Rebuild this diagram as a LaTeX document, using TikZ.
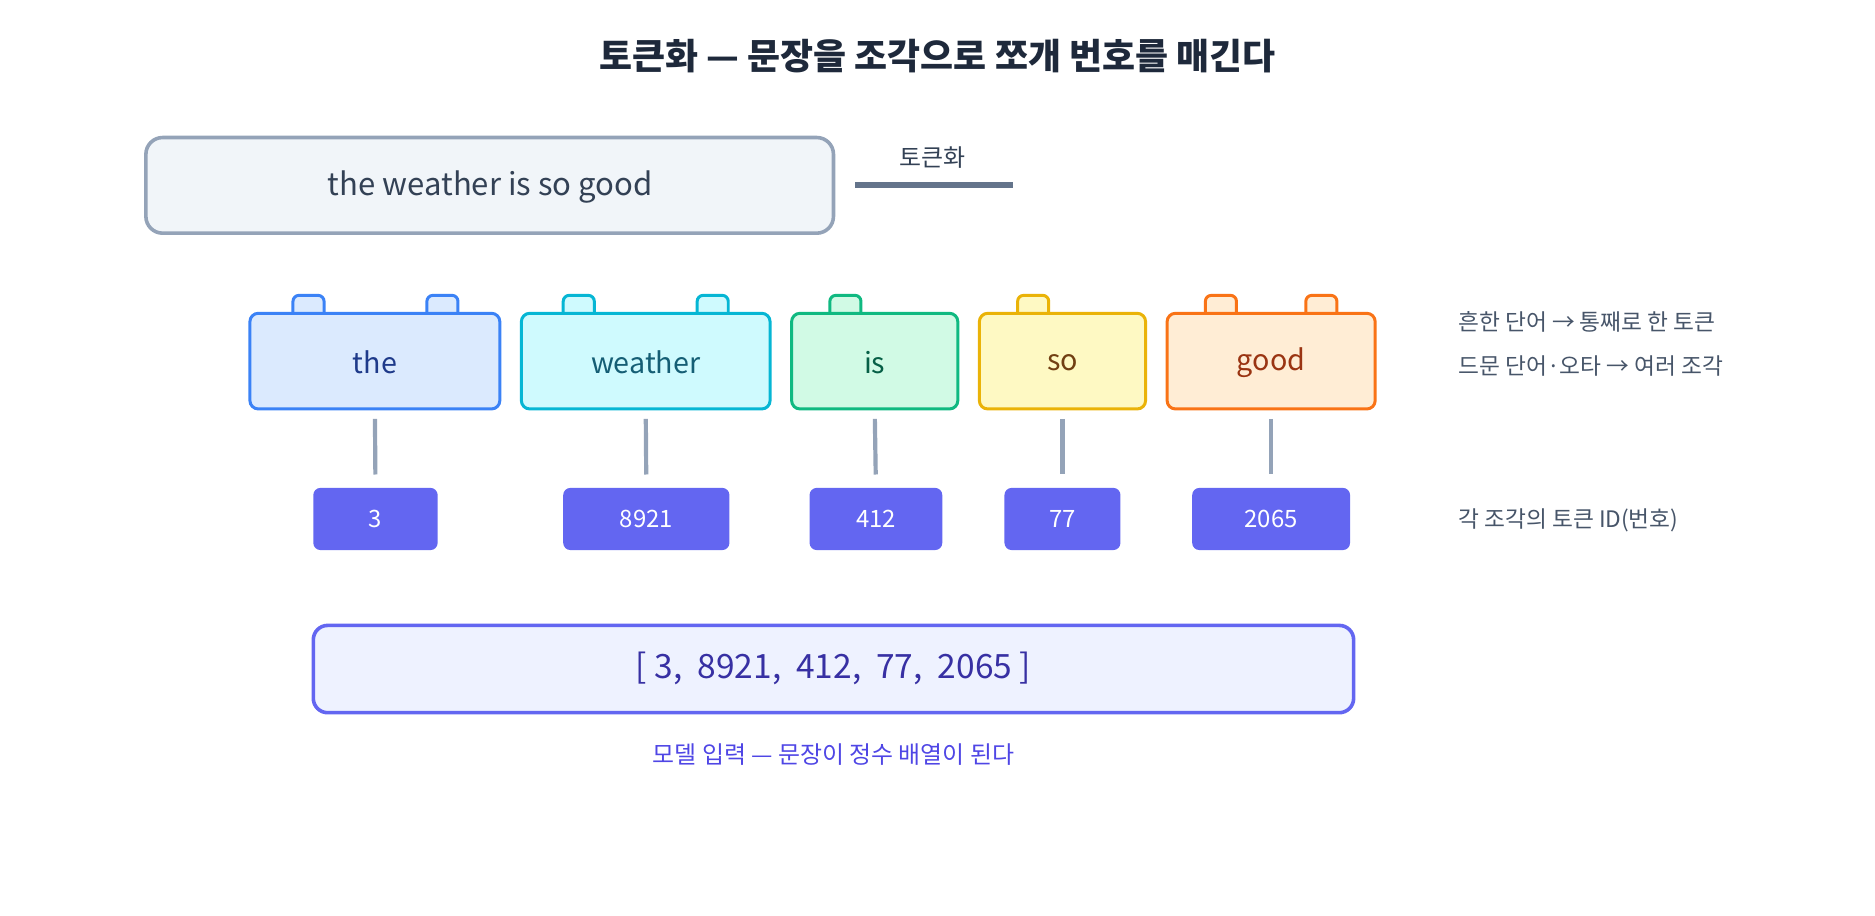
\documentclass[tikz,border=0pt]{standalone}
\usepackage{fontspec}
\setmainfont{Noto Sans CJK KR}
\begin{document}
\begin{tikzpicture}[x=1pt,y=-1pt,
  tok/.style={draw=#1!100, line width=2.5pt, rounded corners=7pt, inner sep=0pt},
  idb/.style={fill=idc, rounded corners=6pt, text=white, font=\fontsize{20}{24}\selectfont, inner sep=0pt},
  note/.style={text=notec, font=\fontsize{19}{23}\selectfont, anchor=west},
  conn/.style={draw=grayc, line width=3.5pt, shorten <=7pt, shorten >=11pt}]
\definecolor{grayc}{HTML}{94A3B8}
\definecolor{notec}{HTML}{475569}
\definecolor{idc}{HTML}{6366F1}
\useasboundingbox (0,0) rectangle (1568,766);
\node (title) at (784,47) {\fontsize{30}{36}\selectfont\bfseries\color[HTML]{1E293B}토큰화 — 문장을 조각으로 쪼개 번호를 매긴다};
\node[draw=grayc, fill={rgb,255:red,241;green,245;blue,249}, line width=3pt, rounded corners=14pt, minimum width=575pt, minimum height=80pt] (sent) at (409.5,155) {};
\node (senttext) at (410,156) {\fontsize{26}{30}\selectfont\color[HTML]{334155}the weather is so good};
\node (tklab) at (780,132) {\fontsize{20}{24}\selectfont\color[HTML]{334155}토큰화};
\coordinate (l1) at (715,155); \coordinate (l2) at (847,155);
\draw[draw={rgb,255:red,100;green,116;blue,139}, line width=5pt] (l1) -- (l2);
% token boxes: name, left, right, stroke, fill, text, tabs
\foreach \n/\a/\b/\s/\f/\t/\w/\tabs in {
  the/209/418/3B82F6/DBEAFE/1E3A8A/the/{258,370},
  weather/436/644/06B6D4/CFFAFE/155E75/weather/{484,596},
  is/662/801/10B981/D1FAE5/065F46/is/{707},
  so/819/958/EAB308/FEF9C3/713F12/so/{864},
  good/976/1150/F97316/FFEDD5/9A3412/good/{1021,1105}}{
  \definecolor{sc}{HTML}{\s}\definecolor{fc}{HTML}{\f}\definecolor{tc}{HTML}{\t}
  \foreach \x in \tabs {
    \draw[draw=sc, fill=fc, line width=2.5pt, rounded corners=5pt] (\x-13,247) rectangle (\x+13,269);
  }
  \node[draw=sc, fill=fc, line width=2.5pt, rounded corners=7pt, minimum width=\b-\a pt, minimum height=80pt, inner sep=0pt] (tok-\n) at ({(\a+\b)/2},302) {};
  \draw[draw=sc, fill=fc, line width=0pt, draw opacity=0] ({(\a+\b)/2-1},301) circle (0);
  \node[text=tc] at ({(\a+\b)/2},303) {\fontsize{24}{28}\selectfont \w};
}
% ids
\foreach \n/\a/\b/\v in {the/262/366/3, weather/471/610/8921, is/677/788/412, so/840/937/77, good/997/1129/2065}{
  \node[idb, minimum width=\b-\a pt, minimum height=52pt] (id-\n) at ({(\a+\b)/2},434) {\v};
  \draw[conn] (tok-\n.south) -- (id-\n.north);
}
\node[note] (n1) at (1216,269) {흔한 단어 → 통째로 한 토큰};
\node[note] (n2) at (1216,306) {드문 단어·오타 → 여러 조각};
\node[note] (n3) at (1216,435) {각 조각의 토큰 ID(번호)};
\node[draw=idc, fill={rgb,255:red,238;green,242;blue,255}, line width=3pt, rounded corners=12pt, minimum width=870pt, minimum height=73pt] (arr) at (697,559.5) {};
\node[text={rgb,255:red,55;green,48;blue,163}] (arrtext) at (697,559) {\fontsize{28}{32}\selectfont [ 3,\ \ 8921,\ \ 412,\ \ 77,\ \ 2065 ]};
\node[text={rgb,255:red,79;green,70;blue,229}] (cap) at (697,631) {\fontsize{20}{24}\selectfont 모델 입력 — 문장이 정수 배열이 된다};
\end{tikzpicture}
\end{document}
